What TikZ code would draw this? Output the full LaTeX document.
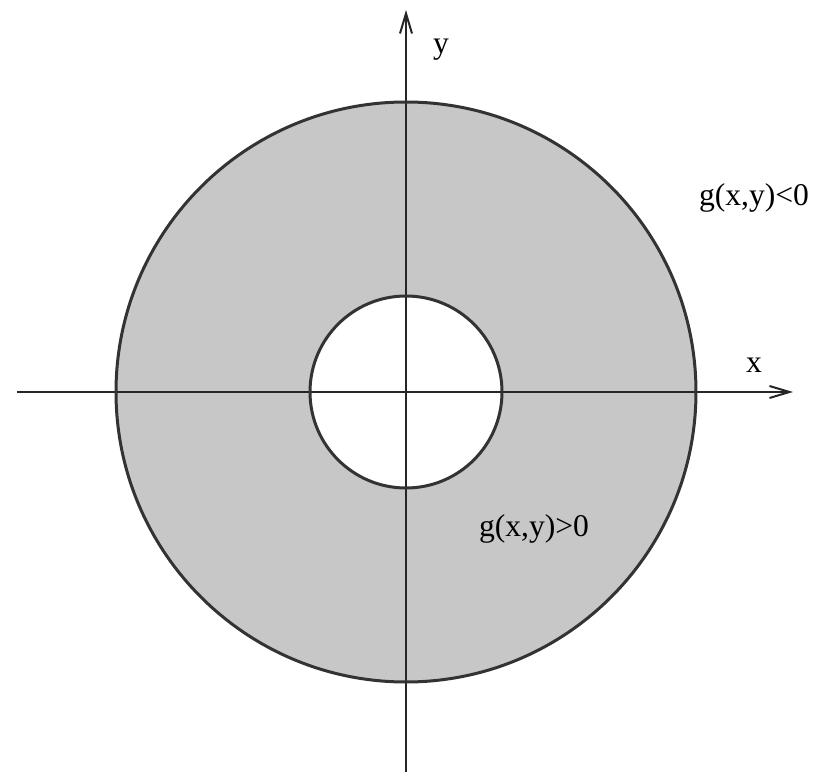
\documentclass[tikz,border=0pt]{standalone}
\usepackage{fontspec}
\setmainfont{Liberation Serif}
\usetikzlibrary{arrows.meta}

\begin{document}
\begin{tikzpicture}[
    x=0.5pt, y=0.5pt,
    % Style for the two axes
    axisStyle/.style={
        draw=black!85,
        line width=1pt,
        -{Straight Barb[length=10pt, width=6pt, line width=1pt]}
    },
    % Style for the boundary circles
    circleStyle/.style={
        draw=black!80,
        line width=1.5pt
    },
    % Style for the shaded region g(x,y)>0
    regionStyle/.style={
        fill=black!22
    },
    % Style for all the text labels
    labelStyle/.style={
        font=\fontsize{15.8}{19}\selectfont,
        inner sep=0pt
    }
]

    % --- PAGE SIZE ---
    \useasboundingbox (-406,-384) rectangle (414,392);

    % --- RADII ---
    \def\outerR{145pt}
    \def\innerR{48pt}

    % --- SHADED RING ---
    \fill[regionStyle, even odd rule] (0,0) circle (\outerR) (0,0) circle (\innerR);

    % --- AXES ---
    \coordinate (xStart) at (-389,0);
    \coordinate (xEnd) at (387,0);
    \coordinate (yStart) at (0,-380);
    \coordinate (yEnd) at (0,382);
    \draw[axisStyle] (xStart) -- (xEnd);
    \draw[axisStyle] (yStart) -- (yEnd);

    % --- BOUNDARY g(x,y)=0 ---
    \draw[circleStyle] (0,0) circle (\outerR);
    \draw[circleStyle] (0,0) circle (\innerR);

    % --- LABELS ---
    \node[labelStyle] (xLabel) at (348,27) {x};
    \node[labelStyle] (yLabel) at (35,342) {y};
    \node[labelStyle] (gNeg) at (348,194) {g(x,y)<0};
    \node[labelStyle] (gPos) at (128,-137) {g(x,y)>0};

\end{tikzpicture}
\end{document}
